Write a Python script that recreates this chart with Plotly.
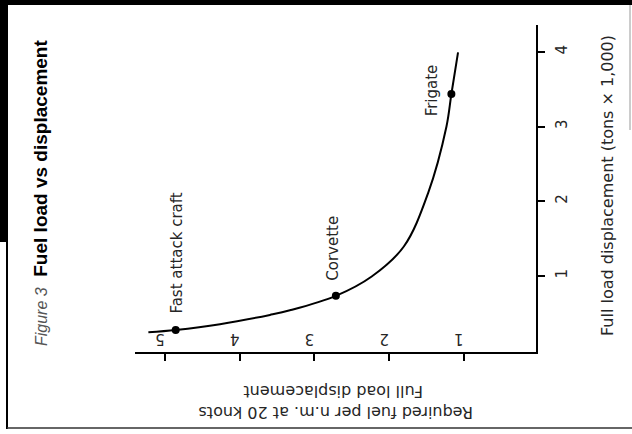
import plotly.graph_objects as go

# ---- data (rotated chart) ----
curve_fuel = [5.221, 4.855, 4.262, 3.593, 3.326, 2.710, 2.230, 1.800, 1.475, 1.229, 1.163, 1.074]
curve_disp = [0.245, 0.276, 0.353, 0.477, 0.538, 0.732, 0.991, 1.393, 2.109, 3.001, 3.436, 3.993]

ship_names = ["Fast attack craft", "Corvette", "Frigate"]
ship_fuel = [4.855, 2.710, 1.163]
ship_disp = [0.276, 0.732, 3.436]

fuel_ticks = [1, 2, 3, 4, 5]
disp_ticks = [1, 2, 3, 4]

title_fig = "Figure 3"
title_main = "Fuel load vs displacement"
disp_title = "Full load displacement (tons × 1,000)"
fuel_title_1 = "Required fuel per n.m. at 20 knots"
fuel_title_2 = "Full load displacement"

W, H = 632, 434
L, R, T, B = 135, 96, 25, 82
PW, PH = W - L - R, H - T - B


def px(x):
    return (x - L) / PW


def py(y):
    return (H - B - y) / PH


FONT = "DejaVu Sans"
TXT = "#262626"

fig = go.Figure()
fig.add_trace(go.Scatter(
    x=curve_fuel, y=curve_disp, mode="lines",
    line=dict(color="black", width=2, shape="spline", smoothing=1.0),
    hoverinfo="skip", showlegend=False))
fig.add_trace(go.Scatter(
    x=ship_fuel, y=ship_disp, mode="markers",
    marker=dict(color="black", size=8),
    text=ship_names, showlegend=False))

annotations = []
# ship labels (reading bottom-to-top)
label_shift = [(1, 77), (-3, 48), (-19, 4)]
for name, fx, dy, (xs, ys) in zip(ship_names, ship_fuel, ship_disp, label_shift):
    annotations.append(dict(
        x=fx, y=dy, xref="x", yref="y", text=name, showarrow=False,
        textangle=-90, xanchor="center", yanchor="middle",
        xshift=xs, yshift=ys,
        font=dict(family=FONT, size=15, color=TXT)))

# right axis title
annotations.append(dict(
    x=px(607), y=py(186), xref="paper", yref="paper", text=disp_title,
    showarrow=False, textangle=-90, xanchor="center", yanchor="middle",
    font=dict(family=FONT, size=16, color=TXT)))

# bottom (upside-down) axis title
annotations.append(dict(
    x=px(333), y=py(392), xref="paper", yref="paper", text=fuel_title_2,
    showarrow=False, textangle=180, xanchor="center", yanchor="middle",
    font=dict(family=FONT, size=16, color=TXT)))
annotations.append(dict(
    x=px(336), y=py(413), xref="paper", yref="paper", text=fuel_title_1,
    showarrow=False, textangle=180, xanchor="center", yanchor="middle",
    font=dict(family=FONT, size=16, color=TXT)))

# figure title on the left
annotations.append(dict(
    x=px(40), y=py(193), xref="paper", yref="paper",
    text="<span style='font-size:16px;color:#555'><i>" + title_fig + "</i></span>  <b>" + title_main + "</b>",
    showarrow=False, textangle=-90, xanchor="center", yanchor="middle",
    font=dict(family="Liberation Sans", size=19, color="black")))

shapes = [
    dict(type="rect", xref="paper", yref="paper", x0=px(0), x1=px(W), y0=py(0), y1=py(5),
         fillcolor="black", line=dict(width=0), layer="above"),
    dict(type="rect", xref="paper", yref="paper", x0=px(0), x1=px(8), y0=py(0), y1=py(242),
         fillcolor="black", line=dict(width=0), layer="above"),
    dict(type="line", xref="paper", yref="paper", x0=px(7), x1=px(7), y0=py(240), y1=py(429),
         line=dict(color="black", width=2)),
    dict(type="line", xref="paper", yref="paper", x0=px(7), x1=px(W), y0=py(428), y1=py(428),
         line=dict(color="#333", width=1.5)),
    dict(type="line", xref="paper", yref="paper", x0=px(630), x1=px(630), y0=py(5), y1=py(130),
         line=dict(color="#999", width=1)),
]

fig.update_layout(
    width=W, height=H,
    margin=dict(l=L, r=R, t=T, b=B, pad=0),
    paper_bgcolor="white", plot_bgcolor="white",
    showlegend=False,
    annotations=annotations, shapes=shapes,
    xaxis=dict(
        range=[5.40, 0.03], showgrid=False, zeroline=False,
        showline=True, linecolor="black", linewidth=2,
        ticks="outside", ticklen=7, tickwidth=2, tickcolor="black",
        tickvals=fuel_ticks, ticktext=[str(v) for v in fuel_ticks],
        tickangle=180, ticklabelposition="inside",
        tickfont=dict(family=FONT, size=15, color=TXT),
    ),
    yaxis=dict(
        range=[-0.02, 4.36], side="right", showgrid=False, zeroline=False,
        showline=True, linecolor="black", linewidth=2,
        ticks="outside", ticklen=7, tickwidth=2, tickcolor="black",
        tickvals=disp_ticks, ticktext=[str(v) for v in disp_ticks],
        tickangle=-90, ticklabelstandoff=4,
        tickfont=dict(family=FONT, size=15, color=TXT),
    ),
)

fig.write_html(
    "out.html",
    config={"displayModeBar": False},
    post_script="document.body.style.margin='0';document.body.style.overflow='hidden';",
)
